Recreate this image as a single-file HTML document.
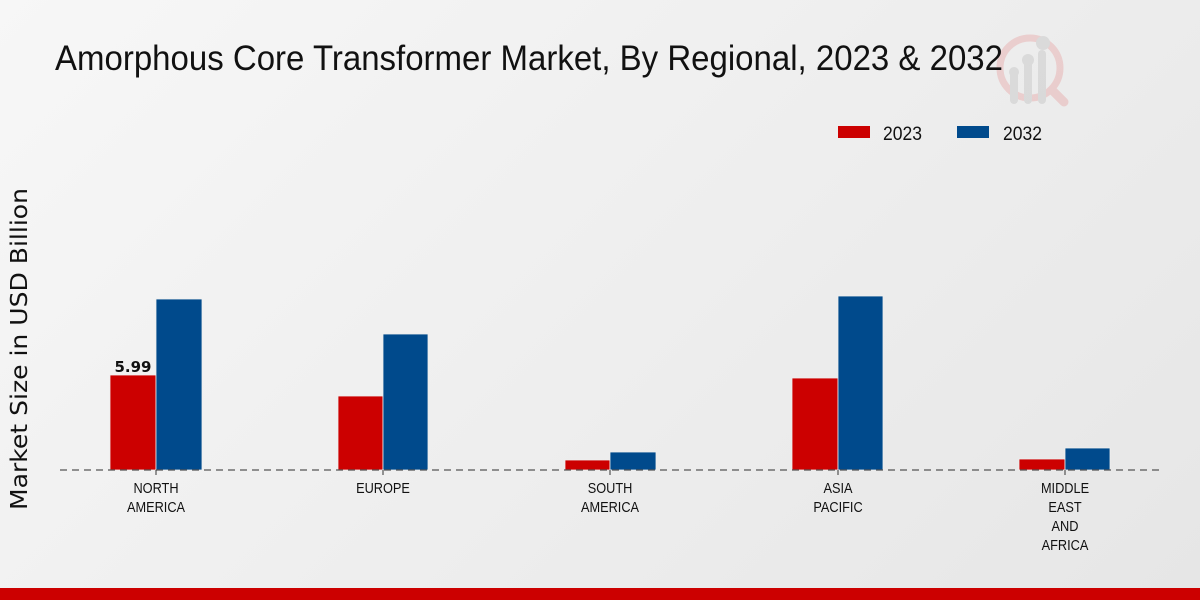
<!DOCTYPE html>
<html><head><style>
body{margin:0;width:1200px;height:600px;overflow:hidden;background:linear-gradient(135deg,#f7f7f7 0%,#e6e6e6 100%);font-family:"Liberation Sans",sans-serif;}
</style></head><body>
<svg width="1200" height="600" style="position:absolute;left:0;top:0">
<g opacity="0.5">
<circle cx="1030" cy="68" r="30" fill="none" stroke="#e8b0b0" stroke-width="7"/>
<line x1="1052" y1="90" x2="1064" y2="102" stroke="#e8b0b0" stroke-width="9" stroke-linecap="round"/>
<rect x="1010" y="70" width="8" height="34" rx="4" fill="#c8c8c8"/>
<rect x="1024" y="60" width="8" height="44" rx="4" fill="#c8c8c8"/>
<rect x="1038" y="50" width="8" height="54" rx="4" fill="#c8c8c8"/>
<circle cx="1014" cy="72" r="5" fill="#c8c8c8"/><circle cx="1028" cy="60" r="6" fill="#c8c8c8"/><circle cx="1043" cy="43" r="7" fill="#c8c8c8"/>
</g>
<text x="55" y="70" font-size="35" fill="#111" textLength="948" lengthAdjust="spacingAndGlyphs">Amorphous Core Transformer Market, By Regional, 2023 &amp; 2032</text>
<rect x="838" y="126" width="32" height="12" fill="#cc0000"/>
<text x="883" y="140" font-size="19" fill="#111" textLength="39" lengthAdjust="spacingAndGlyphs">2023</text>
<rect x="957" y="126" width="32" height="12" fill="#004a8c"/>
<text x="1003" y="140" font-size="19" fill="#111" textLength="39" lengthAdjust="spacingAndGlyphs">2032</text>
<text transform="translate(27,349) rotate(-90)" text-anchor="middle" font-size="23" fill="#111" font-family="DejaVu Sans, sans-serif" textLength="322" lengthAdjust="spacingAndGlyphs">Market Size in USD Billion</text>
<g fill="#cc0000" stroke="#eee" stroke-width="0.8">
<rect x="110" y="375" width="46" height="95"/><rect x="338" y="396" width="45" height="74"/><rect x="565" y="460" width="45" height="10"/><rect x="792" y="378" width="46" height="92"/><rect x="1019" y="459" width="46" height="11"/>
</g>
<g fill="#004a8c" stroke="#eee" stroke-width="0.8">
<rect x="156" y="299" width="46" height="171"/><rect x="383" y="334" width="45" height="136"/><rect x="610" y="452" width="46" height="18"/><rect x="838" y="296" width="45" height="174"/><rect x="1065" y="448" width="45" height="22"/>
</g>
<line x1="60" y1="470" x2="1160" y2="470" stroke="#555" stroke-width="1.2" stroke-dasharray="7,5"/>
<g stroke="#333" stroke-width="1">
<line x1="156" y1="470" x2="156" y2="475"/><line x1="383" y1="470" x2="383" y2="475"/><line x1="610" y1="470" x2="610" y2="475"/><line x1="838" y1="470" x2="838" y2="475"/><line x1="1065" y1="470" x2="1065" y2="475"/>
</g>
<text x="133" y="372" text-anchor="middle" font-size="15" font-weight="bold" fill="#111" font-family="DejaVu Sans, sans-serif">5.99</text>
<g font-size="15" fill="#111" text-anchor="middle">
<g transform="translate(156,0) scale(0.85,1)"><text x="0" y="493">NORTH</text><text x="0" y="512">AMERICA</text></g>
<g transform="translate(383,0) scale(0.85,1)"><text x="0" y="493">EUROPE</text></g>
<g transform="translate(610,0) scale(0.85,1)"><text x="0" y="493">SOUTH</text><text x="0" y="512">AMERICA</text></g>
<g transform="translate(838,0) scale(0.85,1)"><text x="0" y="493">ASIA</text><text x="0" y="512">PACIFIC</text></g>
<g transform="translate(1065,0) scale(0.85,1)"><text x="0" y="493">MIDDLE</text><text x="0" y="512">EAST</text><text x="0" y="531">AND</text><text x="0" y="550">AFRICA</text></g>
</g>
<rect x="0" y="588" width="1200" height="12" fill="#cc0000"/>
</svg>
</body></html>
